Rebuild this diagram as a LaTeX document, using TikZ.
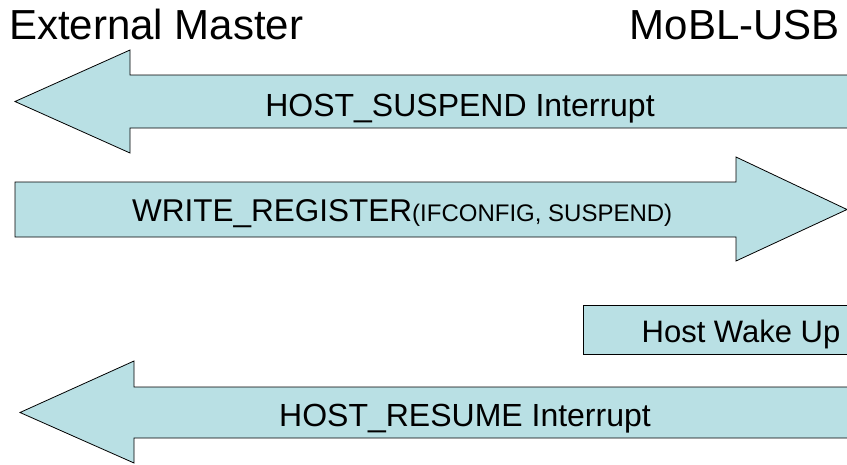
\documentclass[tikz,border=0pt]{standalone}
\usepackage{fontspec}
\setmainfont{Liberation Sans}
\definecolor{arrowfill}{RGB}{185,224,228}
\begin{document}
\begin{tikzpicture}[x=1pt,y=-1pt,
    band/.style={fill=arrowfill,draw=black,line width=0.8pt,line join=miter},
    lbl/.style={inner sep=0pt,anchor=base,font=\fontsize{32}{36}\selectfont}]
  \useasboundingbox (0,0) rectangle (847,464);
  \clip (0,0) rectangle (847,464);

  % titles
  \node[inner sep=0pt,anchor=base west,font=\fontsize{42}{46}\selectfont] (master) at (9,39) {External Master};
  \node[inner sep=0pt,anchor=base east,font=\fontsize{42}{46}\selectfont] (mobl) at (840,39) {MoBL-USB};

  % suspend interrupt, to the master
  \draw[band] (860,75) -- (130,75) -- (130,50) -- (15,101.5) -- (130,153) -- (130,128) -- (860,128) -- cycle;
  \node[lbl] (suspend) at (460,116) {HOST\_SUSPEND Interrupt};

  % write register, to the chip
  \draw[band] (15,182) -- (736,182) -- (736,157) -- (847,209.5) -- (736,261) -- (736,237) -- (15,237) -- cycle;
  \node[inner sep=0pt,anchor=base west] (write) at (132,221)
    {\fontsize{31.5}{34}\selectfont WRITE\_REGISTER\fontsize{24}{26}\selectfont(IFCONFIG, SUSPEND)};

  % wake up
  \draw[band] (860,305) -- (583,305) -- (583,354) -- (860,354);
  \node[lbl,font=\fontsize{31}{36}\selectfont] (wake) at (741,342) {Host Wake Up};

  % resume interrupt, to the master
  \draw[band] (860,387) -- (134,387) -- (134,361) -- (20,412.5) -- (134,463) -- (134,438) -- (860,438) -- cycle;
  \node[lbl] (resume) at (465,426) {HOST\_RESUME Interrupt};
\end{tikzpicture}
\end{document}
